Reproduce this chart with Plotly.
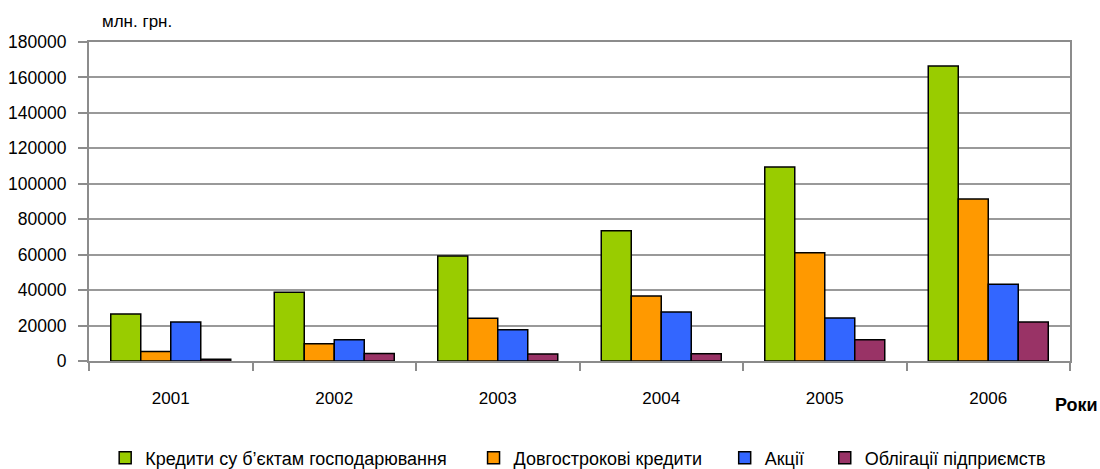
import plotly.graph_objects as go

years = ["2001", "2002", "2003", "2004", "2005", "2006"]
series_names = ["Кредити су б’єктам господарювання", "Довгострокові кредити", "Акції", "Облігації підприємств"]
credits_business = [26500, 38800, 59200, 73500, 109500, 166500]
long_term_credits = [5300, 9800, 24100, 36700, 61100, 91400]
shares = [22000, 12000, 17700, 27600, 24300, 43300]
bonds = [1000, 4300, 4000, 4100, 12000, 22000]
colors = ["#99CC00", "#FF9900", "#3366FF", "#993366"]
y_ticks = [0, 20000, 40000, 60000, 80000, 100000, 120000, 140000, 160000, 180000]

FONT = "Liberation Sans, Arial, sans-serif"

fig = go.Figure()
all_series = [credits_business, long_term_credits, shares, bonds]
legend_ids = ["legend", "legend2", "legend3", "legend4"]
for name, vals, col, lg in zip(series_names, all_series, colors, legend_ids):
    fig.add_trace(go.Bar(
        x=years, y=vals, name=name, legend=lg, showlegend=True,
        marker=dict(color=col, line=dict(color="black", width=1.5)),
    ))

legend_x = [0.0165, 0.392, 0.648, 0.750]
legend_common = dict(orientation="h", y=-0.304, yanchor="middle", xanchor="left",
                     font=dict(family=FONT, size=18, color="black"),
                     bgcolor="rgba(0,0,0,0)", borderwidth=0, itemwidth=30)

fig.update_layout(
    width=1100, height=469,
    margin=dict(l=89, r=30, t=42, b=108, pad=0, autoexpand=False),
    paper_bgcolor="white", plot_bgcolor="white",
    barmode="group", bargap=0.266, bargroupgap=0,
    showlegend=True,
    font=dict(family=FONT, size=17, color="black"),
    legend=dict(x=legend_x[0], **legend_common),
    legend2=dict(x=legend_x[1], **legend_common),
    legend3=dict(x=legend_x[2], **legend_common),
    legend4=dict(x=legend_x[3], **legend_common),
    xaxis=dict(
        type="category", showline=True, linecolor="#8c8c8c", linewidth=2, mirror=True,
        ticks="outside", tickson="boundaries", ticklen=8, tickcolor="#8c8c8c", tickwidth=2,
        showgrid=False, ticklabelstandoff=21, automargin=False,
        tickfont=dict(family=FONT, size=17, color="black"),
    ),
    yaxis=dict(
        range=[0, 180000], tickvals=y_ticks, ticktext=[str(v) for v in y_ticks],
        showline=True, linecolor="#8c8c8c", linewidth=2, mirror=True,
        ticks="outside", ticklen=9, tickcolor="#8c8c8c", tickwidth=2,
        showgrid=True, gridcolor="#999999", gridwidth=2, zeroline=False,
        ticklabelstandoff=8, automargin=False,
        tickfont=dict(family=FONT, size=17.5, color="black"),
    ),
    annotations=[
        dict(text="млн. грн.", xref="paper", yref="paper", x=(100 - 89) / 981, y=(361 - 22) / 319,
             xanchor="left", yanchor="middle", showarrow=False,
             font=dict(family=FONT, size=17, color="black")),
        dict(text="<b>Роки</b>", xref="paper", yref="paper", x=(1100 - 89) / 981, y=(361 - 405) / 319,
             xanchor="right", yanchor="middle", showarrow=False,
             font=dict(family=FONT, size=18, color="black")),
    ],
)

fig.write_html("out.html")
